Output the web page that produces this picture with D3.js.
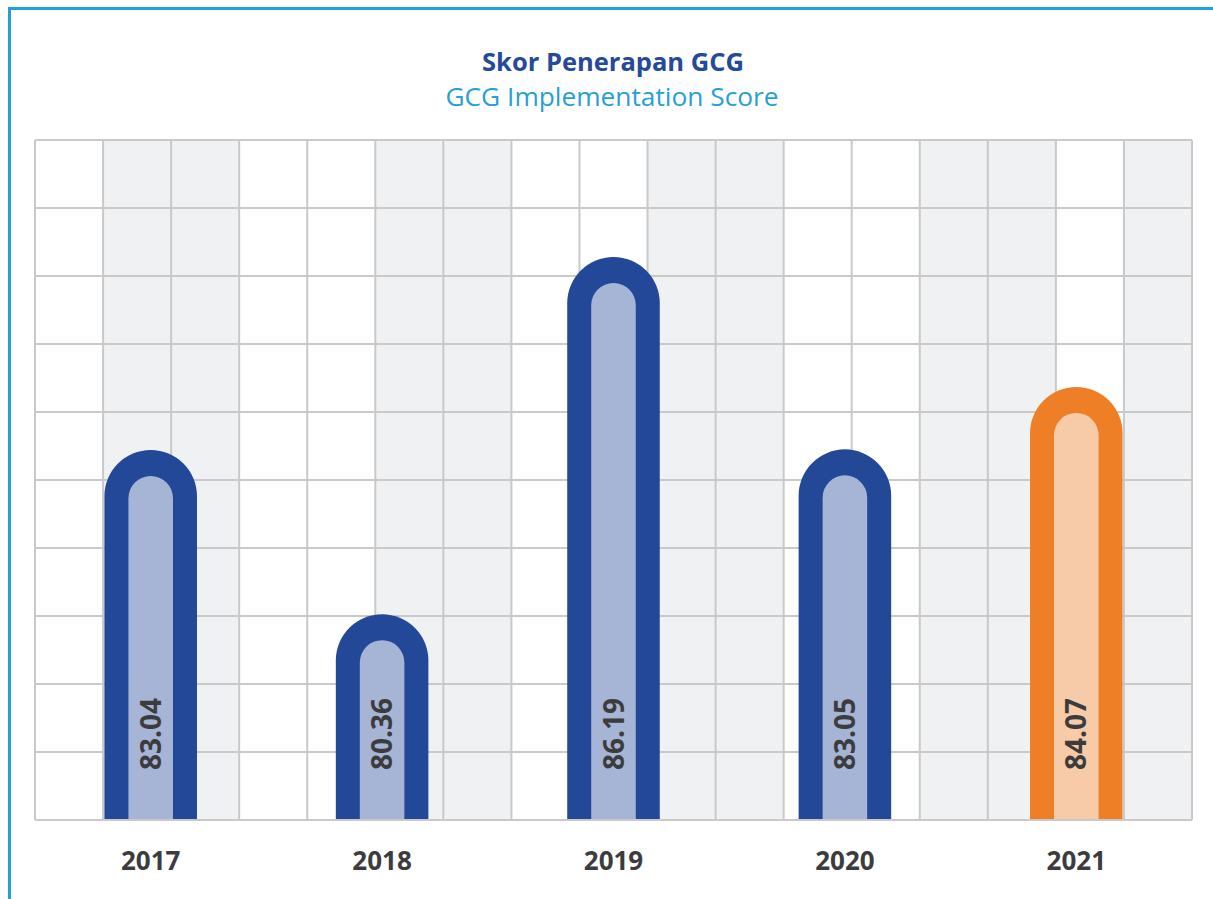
<!DOCTYPE html>
<html>
<head>
<meta charset="utf-8">
<script src="https://cdn.jsdelivr.net/npm/d3@7"></script>
<style>
  html, body { margin: 0; padding: 0; background: #ffffff; }
  svg { display: block; }
</style>
</head>
<body>
<svg id="chart" width="1213" height="899"></svg>
<script>
// ---- data ----
const years = ["2017", "2018", "2019", "2020", "2021"];
const scores = [83.04, 80.36, 86.19, 83.05, 84.07];
const highlight = [false, false, false, false, true];
const titleMain = "Skor Penerapan GCG";
const titleSub = "GCG Implementation Score";
const yDomain = [77, 88.1];
const gridRows = 10;
const columnShade = [0,1,1,0,0,1,1,0,0,1,1,0,0,1,1,0,1];

// ---- layout ----
const W = 1213, H = 899;
const plot = { left: 35, right: 1192, top: 140, bottom: 820 };
const svg = d3.select("#chart");

const x = d3.scaleBand().domain(years).range([plot.left, plot.right]).paddingInner(0.6).paddingOuter(0.3);
const y = d3.scaleLinear().domain(yDomain).range([plot.bottom, plot.top]);
const colScale = d3.scaleBand().domain(d3.range(columnShade.length)).range([plot.left, plot.right]);
const rowScale = d3.scaleLinear().domain([0, gridRows]).range([plot.bottom, plot.top]);

// outer frame lines
svg.append("line").attr("x1", 8).attr("x2", W).attr("y1", 8.5).attr("y2", 8.5)
  .attr("stroke", "#22a0d8").attr("stroke-width", 3);
svg.append("line").attr("x1", 9.5).attr("x2", 9.5).attr("y1", 7).attr("y2", H)
  .attr("stroke", "#22a0d8").attr("stroke-width", 3);

// titles
svg.append("text").attr("x", 613).attr("y", 71).attr("text-anchor", "middle")
  .attr("font-family", "Open Sans, sans-serif").attr("font-weight", 700).attr("font-size", 25.5)
  .attr("fill", "#254a98").text(titleMain);
svg.append("text").attr("x", 612).attr("y", 106).attr("text-anchor", "middle")
  .attr("font-family", "Open Sans, sans-serif").attr("font-weight", 400).attr("font-size", 26.3)
  .attr("fill", "#27a0d6").text(titleSub);

// column shading
svg.append("g").selectAll("rect").data(columnShade.map((s, i) => ({ s, i })).filter(d => d.s))
  .join("rect")
  .attr("x", d => colScale(d.i)).attr("width", colScale.bandwidth())
  .attr("y", plot.top).attr("height", plot.bottom - plot.top)
  .attr("fill", "#f0f1f3");

// grid lines
const grid = svg.append("g").attr("stroke", "#c9c9ca").attr("stroke-width", 2);
grid.selectAll("line.h").data(d3.range(gridRows + 1)).join("line").attr("class", "h")
  .attr("x1", plot.left).attr("x2", plot.right)
  .attr("y1", d => rowScale(d)).attr("y2", d => rowScale(d));
const colEdges = d3.range(columnShade.length).map(i => colScale(i)).concat([plot.right]);
grid.selectAll("line.v").data(colEdges).join("line").attr("class", "v")
  .attr("x1", d => d).attr("x2", d => d)
  .attr("y1", plot.top).attr("y2", plot.bottom);

// bars
function archPath(x0, w, top, bottom) {
  const r = w / 2;
  return `M${x0},${bottom} L${x0},${top + r} A${r},${r} 0 0 1 ${x0 + w},${top + r} L${x0 + w},${bottom} Z`;
}
const wall = 24, topWall = 26;
const bars = svg.append("g").selectAll("g").data(years.map((yr, i) => ({ yr, v: scores[i], hl: highlight[i] })))
  .join("g");
bars.append("path")
  .attr("d", d => archPath(x(d.yr), x.bandwidth(), y(d.v), plot.bottom - 1))
  .attr("fill", d => d.hl ? "#ee7f26" : "#234897");
bars.append("path")
  .attr("d", d => archPath(x(d.yr) + wall, x.bandwidth() - 2 * wall, y(d.v) + topWall, plot.bottom - 1))
  .attr("fill", d => d.hl ? "#f7cba7" : "#a6b5d6");
bars.append("text")
  .attr("transform", d => `translate(${x(d.yr) + x.bandwidth() / 2},770) rotate(-90)`)
  .attr("dy", "0.36em")
  .attr("font-family", "Open Sans, sans-serif").attr("font-weight", 700).attr("font-size", 28)
  .attr("fill", "#3c3c3e")
  .text(d => d.v.toFixed(2));

// x axis labels
const xAxis = d3.axisBottom(x).tickSize(0).tickPadding(0);
const ax = svg.append("g").attr("transform", `translate(0,${plot.bottom})`).call(xAxis);
ax.select(".domain").remove();
ax.selectAll("text")
  .attr("y", 50).attr("dy", 0)
  .attr("font-family", "Open Sans, sans-serif").attr("font-weight", 700).attr("font-size", 26)
  .attr("fill", "#3c3c3e");
</script>
</body>
</html>
